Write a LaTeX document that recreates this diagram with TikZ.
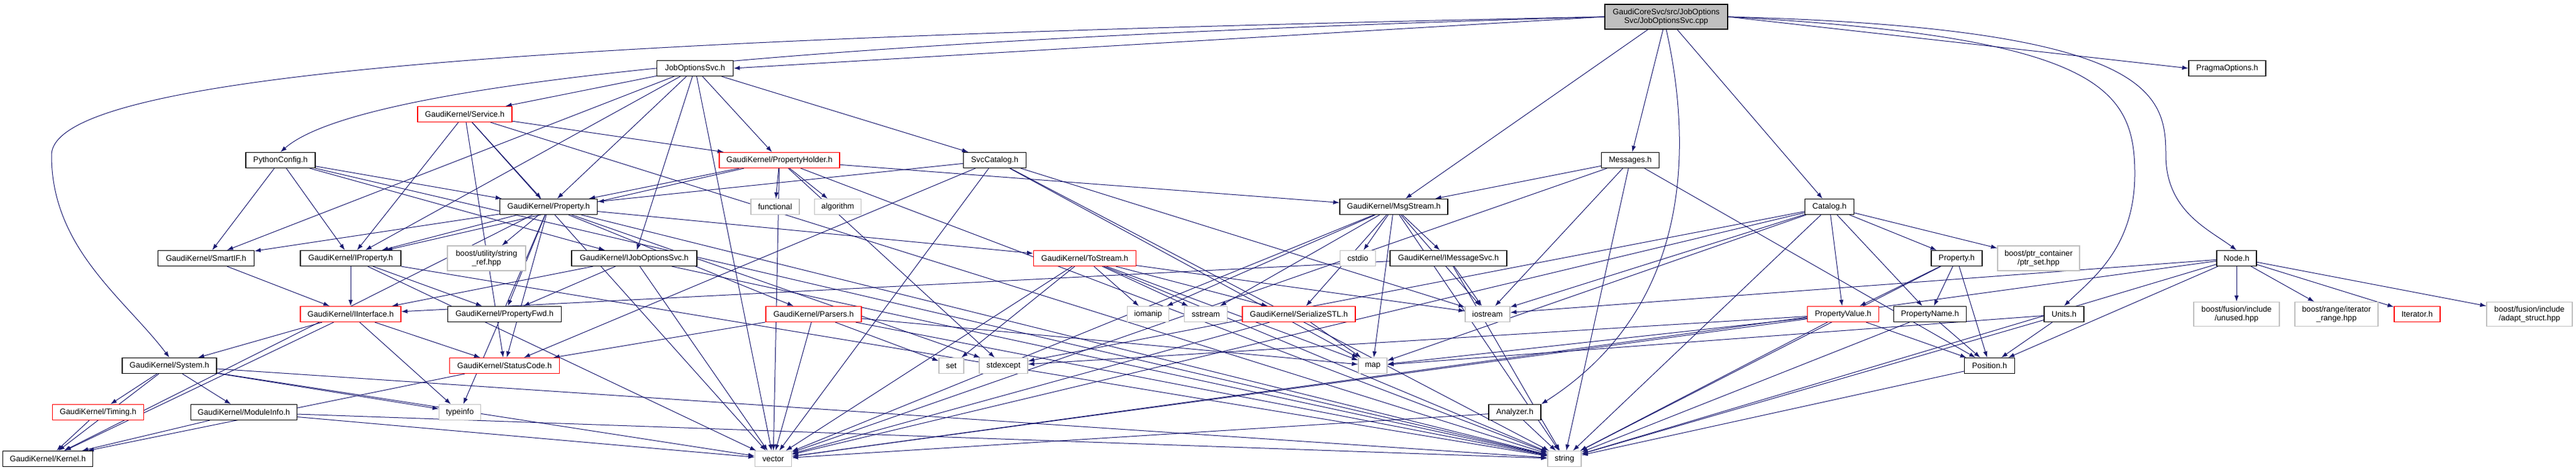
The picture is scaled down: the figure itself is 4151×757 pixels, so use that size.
\documentclass[tikz,border=0pt]{standalone}
\usepackage{fontspec}
\setmainfont{Liberation Sans}
\usetikzlibrary{arrows.meta}
\definecolor{edgeblue}{HTML}{191970}
\definecolor{greyb}{HTML}{BFBFBF}
\pgfdeclarelayer{bg}
\pgfsetlayers{bg,main}
\tikzset{
  box/.style={draw=black, line width=1.2pt, fill=white, inner sep=0pt, align=center,
    font=\fontsize{12.8}{14.5}\selectfont, minimum height=25},
  redbox/.style={box, draw=red},
  sysbox/.style={box, draw=greyb},
  rootbox/.style={box, fill=greyb},
  edge/.style={draw=edgeblue, line width=1pt, -{Latex[length=10pt,width=7pt]}},
}
\begin{document}
\begin{tikzpicture}[x=1pt,y=-1pt]
\useasboundingbox (0,0) rectangle (4151,757);
% row A
\node[rootbox, minimum width=198, minimum height=40] (root) at (2685,27) {GaudiCoreSvc/src/JobOptions\\Svc/JobOptionsSvc.cpp};
% row B
\node[box, minimum width=123] (jos) at (1120,110) {JobOptionsSvc.h};
\node[box, minimum width=124] (pragma) at (3589,110) {PragmaOptions.h};
% row C
\node[redbox, minimum width=152] (service) at (749,184) {GaudiKernel/Service.h};
% row D
\node[box, minimum width=112] (pyconf) at (452,258) {PythonConfig.h};
\node[redbox, minimum width=194] (pholder) at (1256,258) {GaudiKernel/PropertyHolder.h};
\node[box, minimum width=101] (svccat) at (1603,258) {SvcCatalog.h};
\node[box, minimum width=93] (messages) at (2627,258) {Messages.h};
% row E
\node[box, minimum width=157] (prop) at (884,333) {GaudiKernel/Property.h};
\node[sysbox, minimum width=78] (functional) at (1249,333) {functional};
\node[sysbox, minimum width=75] (algorithm) at (1350,333) {algorithm};
\node[box, minimum width=174] (msgstream) at (2246,333) {GaudiKernel/MsgStream.h};
\node[box, minimum width=79] (catalog) at (2948,333) {Catalog.h};
% row F
\node[box, minimum width=155] (smartif) at (332,416) {GaudiKernel/SmartIF.h};
\node[box, minimum width=162] (iprop) at (565,416) {GaudiKernel/IProperty.h};
\node[sysbox, minimum width=126, minimum height=40] (strref) at (784,416) {boost/utility/string\\\_ref.hpp};
\node[box, minimum width=202] (ijos) at (1022,416) {GaudiKernel/IJobOptionsSvc.h};
\node[redbox, minimum width=165] (tostream) at (1748,416) {GaudiKernel/ToStream.h};
\node[sysbox, minimum width=57] (cstdio) at (2188,416) {cstdio};
\node[box, minimum width=188] (imsgsvc) at (2334,416) {GaudiKernel/IMessageSvc.h};
\node[box, minimum width=82] (prop2) at (3153,416) {Property.h};
\node[sysbox, minimum width=132, minimum height=40] (ptrset) at (3285,416) {boost/ptr\_container\\/ptr\_set.hpp};
\node[box, minimum width=64] (nodeh) at (3604,416) {Node.h};
% row G
\node[redbox, minimum width=162] (iinterface) at (565,506) {GaudiKernel/IInterface.h};
\node[box, minimum width=183] (propfwd) at (813,506) {GaudiKernel/PropertyFwd.h};
\node[redbox, minimum width=154] (parsers) at (1311,506) {GaudiKernel/Parsers.h};
\node[sysbox, minimum width=67] (iomanip) at (1850,506) {iomanip};
\node[sysbox, minimum width=69] (sstream) at (1943,506) {sstream};
\node[redbox, minimum width=182] (serial) at (2093,506) {GaudiKernel/SerializeSTL.h};
\node[sysbox, minimum width=72] (iostream) at (2397,506) {iostream};
\node[redbox, minimum width=115] (pvalue) at (2970,506) {PropertyValue.h};
\node[box, minimum width=117] (pname) at (3110,506) {PropertyName.h};
\node[box, minimum width=64] (units) at (3326,506) {Units.h};
\node[sysbox, minimum width=138, minimum height=39] (unused) at (3604,506) {boost/fusion/include\\/unused.hpp};
\node[sysbox, minimum width=134, minimum height=39] (itrange) at (3765,506) {boost/range/iterator\\\_range.hpp};
\node[redbox, minimum width=74] (iterator) at (3895,506) {Iterator.h};
\node[sysbox, minimum width=138, minimum height=39] (adapt) at (4076,506) {boost/fusion/include\\/adapt\_struct.hpp};
% row H
\node[box, minimum width=152] (system) at (273,589) {GaudiKernel/System.h};
\node[redbox, minimum width=177] (statuscode) at (813,589) {GaudiKernel/StatusCode.h};
\node[sysbox, minimum width=40] (set) at (1533,589) {set};
\node[sysbox, minimum width=78] (stdexcept) at (1617,589) {stdexcept};
\node[sysbox, minimum width=46] (map) at (2212,589) {map};
\node[box, minimum width=81] (position) at (3206,589) {Position.h};
% row I
\node[redbox, minimum width=147] (timing) at (158,664) {GaudiKernel/Timing.h};
\node[box, minimum width=171] (moduleinfo) at (393,664) {GaudiKernel/ModuleInfo.h};
\node[sysbox, minimum width=67] (typeinfo) at (741,664) {typeinfo};
\node[box, minimum width=84] (analyzer) at (2441,664) {Analyzer.h};
% row J
\node[box, minimum width=145] (kernel) at (77,739) {GaudiKernel/Kernel.h};
\node[sysbox, minimum width=59] (vector) at (1246,739) {vector};
\node[sysbox, minimum width=54] (string) at (2521,739) {string};

\begin{pgfonlayer}{bg}
% root edges
\draw[edge] (root.west) -- (jos.east);
\draw[edge] (root.west) .. controls (1000,60) and (83,110) .. (83,250) .. controls (83,400) and (200,480) .. (system.north);
\draw[edge] (root.west) .. controls (1100,70) and (560,150) .. (pyconf.north);
\draw[edge] (root) -- (msgstream);
\draw[edge] (root) -- (messages);
\draw[edge] (root) -- (catalog);
\draw[edge] (root.east) -- (pragma.west);
\draw[edge] (root.east) .. controls (3470,45) and (3490,150) .. (3490,250) .. controls (3490,340) and (3560,370) .. (nodeh.north);
\draw[edge] (root.east) .. controls (3380,60) and (3440,140) .. (3440,280) .. controls (3440,400) and (3370,450) .. (units.north);
\draw[edge] (root.south) .. controls (2730,250) and (2720,500) .. (analyzer.north east);
% the rest
\foreach \a/\b in {
  jos/service, jos/prop, jos/pholder, jos/svccat, jos/ijos, jos/vector, jos/smartif, jos/iprop,
  service/iprop, service/prop, service/pholder, service/statuscode, service/vector, service/string,
  pyconf/smartif, pyconf/iprop, pyconf/prop, pyconf/ijos, pyconf/string,
  pholder/prop, pholder/functional, pholder/algorithm, pholder/iprop, pholder/msgstream, pholder/stdexcept, pholder/vector, pholder/string,
  svccat/prop, svccat/statuscode, svccat/vector, svccat/map, svccat/string, svccat/iostream,
  messages/msgstream, messages/position, messages/iostream, messages/vector, messages/string,
  prop/strref, prop/string, prop/stdexcept, prop/typeinfo, prop/iprop, prop/kernel, prop/parsers, prop/propfwd, prop/smartif, prop/statuscode, prop/tostream,
  msgstream/imsgsvc, msgstream/serial, msgstream/cstdio, msgstream/string, msgstream/iomanip, msgstream/sstream, msgstream/vector, msgstream/iostream, msgstream/map,
  catalog/prop2, catalog/ptrset, catalog/pvalue, catalog/pname, catalog/iostream, catalog/map, catalog/stdexcept, catalog/string, catalog/vector,
  nodeh/unused, nodeh/itrange, nodeh/iterator, nodeh/adapt, nodeh/iostream, nodeh/position, nodeh/string, nodeh/vector,
  units/map, units/position, units/string,
  pvalue/map, pvalue/stdexcept, pvalue/position, pvalue/vector, pvalue/string,
  pname/position, pname/string,
  prop2/pvalue, prop2/pname, prop2/position, prop2/string,
  position/string,
  analyzer/vector, analyzer/string,
  imsgsvc/iinterface, imsgsvc/iostream, imsgsvc/string,
  serial/map, serial/vector,
  tostream/iomanip, tostream/sstream, tostream/serial, tostream/iostream, tostream/set, tostream/map, tostream/string, tostream/vector,
  parsers/statuscode, parsers/vector, parsers/set, parsers/map, parsers/string,
  iinterface/kernel, iinterface/system, iinterface/statuscode, iinterface/typeinfo,
  iprop/iinterface, iprop/propfwd, iprop/string, iprop/vector,
  smartif/iinterface,
  ijos/iinterface, ijos/propfwd, ijos/vector, ijos/string,
  statuscode/kernel,
  system/kernel, system/timing, system/moduleinfo, system/typeinfo, system/string, system/vector,
  timing/kernel,
  moduleinfo/kernel, moduleinfo/string, moduleinfo/vector}
  \draw[edge] (\a) -- (\b);
\end{pgfonlayer}
\end{tikzpicture}
\end{document}
